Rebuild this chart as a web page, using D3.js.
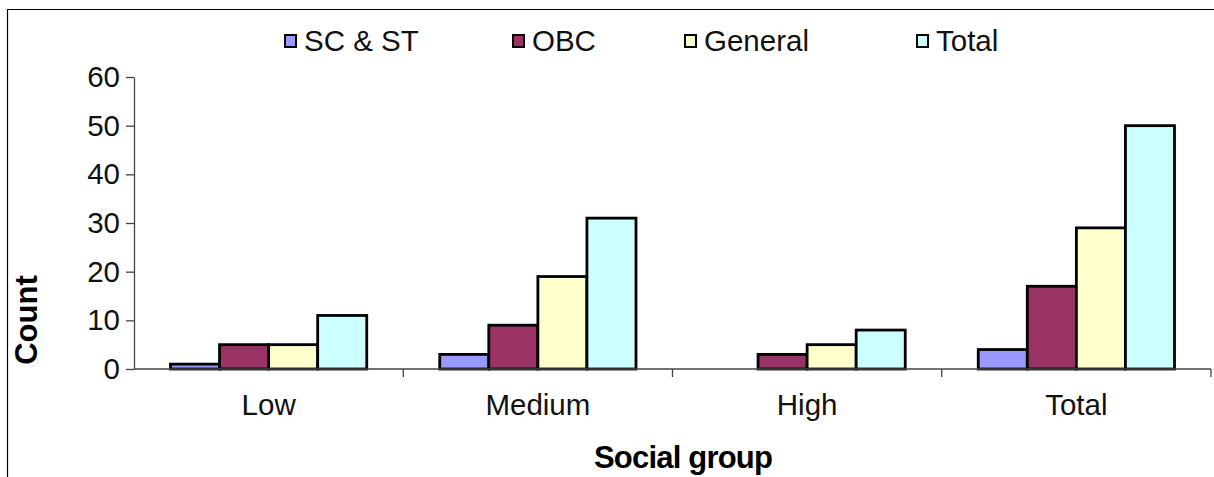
<!DOCTYPE html>
<html>
<head>
<meta charset="utf-8">
<script src="https://cdn.jsdelivr.net/npm/d3@7/dist/d3.min.js"></script>
<style>
  html, body { margin: 0; padding: 0; background: #fff; }
  svg { display: block; font-family: "Liberation Sans", Arial, sans-serif; }
</style>
</head>
<body>
<svg id="chart" width="1214" height="477"></svg>
<script>
// Counts by income level and social group
const categories = ["Low", "Medium", "High", "Total"];
const seriesNames = ["SC & ST", "OBC", "General", "Total"];
const scst    = [1, 3, 0, 4];
const obc     = [5, 9, 3, 17];
const general = [5, 19, 5, 29];
const total   = [11, 31, 8, 50];
const yTicks  = [0, 10, 20, 30, 40, 50, 60];
const colors  = ["#9999FF", "#993366", "#FFFFCC", "#CCFFFF"];

const seriesValues = [scst, obc, general, total];
const FONT = 29.5;

const svg = d3.select("#chart");

// outer frame (left and top edges)
svg.append("path")
  .attr("d", "M7.5,477 V9.5 H1214")
  .attr("fill", "none").attr("stroke", "#000").attr("stroke-width", 1.2);

const plot = { left: 134, right: 1211, top: 77, bottom: 369 };

const x0 = d3.scaleBand().domain(categories).range([plot.left, plot.right]).padding(0);
const bw = x0.bandwidth();
const x1 = d3.scaleBand().domain(seriesNames).range([36.5, bw - 36.5]).padding(0);
const y = d3.scaleLinear().domain([0, 60]).range([plot.bottom, plot.top]);

// y axis
const yAxis = svg.append("g")
  .attr("transform", `translate(${plot.left},0)`)
  .call(d3.axisLeft(y).tickValues(yTicks).tickSize(8).tickPadding(6).tickSizeOuter(0));
yAxis.select(".domain").attr("stroke", "#444").attr("stroke-width", 1.3);
yAxis.selectAll(".tick line").attr("stroke", "#444").attr("stroke-width", 1.3);
yAxis.selectAll(".tick text")
  .attr("font-size", FONT).attr("fill", "#111")
  .attr("font-family", "'Liberation Sans', Arial, sans-serif");

// bars
const groups = svg.append("g").selectAll("g")
  .data(categories)
  .join("g")
  .attr("transform", c => `translate(${x0(c)},0)`);

groups.selectAll("rect")
  .data((c, i) => seriesNames.map((s, k) => ({ s, v: seriesValues[k][i], k })))
  .join("rect")
  .filter(d => d.v > 0)
  .attr("x", d => x1(d.s))
  .attr("y", d => y(d.v))
  .attr("width", x1.bandwidth())
  .attr("height", d => y(0) - y(d.v))
  .attr("fill", d => colors[d.k])
  .attr("stroke", "#000")
  .attr("stroke-width", 2.8);

// x axis (drawn after bars so the baseline sits on top)
const xAxisG = svg.append("g").attr("transform", `translate(0,${plot.bottom})`);
xAxisG.append("line")
  .attr("x1", plot.left).attr("x2", plot.right)
  .attr("stroke", "#444").attr("stroke-width", 1.3);
const boundaries = categories.map(c => x0(c) + bw);
xAxisG.selectAll("line.tk")
  .data(boundaries)
  .join("line").attr("class", "tk")
  .attr("x1", d => d).attr("x2", d => d)
  .attr("y1", 0).attr("y2", 8)
  .attr("stroke", "#444").attr("stroke-width", 1.3);
xAxisG.selectAll("text")
  .data(categories)
  .join("text")
  .attr("x", c => x0(c) + bw / 2)
  .attr("y", 46)
  .attr("text-anchor", "middle")
  .attr("font-size", FONT).attr("fill", "#111")
  .text(c => c);

// axis titles
svg.append("text")
  .attr("transform", "translate(37,320) rotate(-90)")
  .attr("text-anchor", "middle")
  .attr("font-size", 31).attr("font-weight", "bold").attr("fill", "#000")
  .text("Count");

svg.append("text")
  .attr("x", 683).attr("y", 468)
  .attr("text-anchor", "middle")
  .attr("font-size", 31).attr("font-weight", "bold").attr("fill", "#000")
  .attr("letter-spacing", -0.8)
  .text("Social group");

// legend
const legendX = [285, 513, 685, 917];
const legend = svg.append("g").selectAll("g")
  .data(seriesNames)
  .join("g")
  .attr("transform", (s, i) => `translate(${legendX[i]},35)`);
legend.append("rect")
  .attr("width", 11).attr("height", 12)
  .attr("fill", (s, i) => colors[i])
  .attr("stroke", "#000").attr("stroke-width", 2);
legend.append("text")
  .attr("x", 19).attr("y", 6)
  .attr("dy", "0.35em")
  .attr("font-size", FONT).attr("fill", "#111")
  .text(s => s);
</script>
</body>
</html>
